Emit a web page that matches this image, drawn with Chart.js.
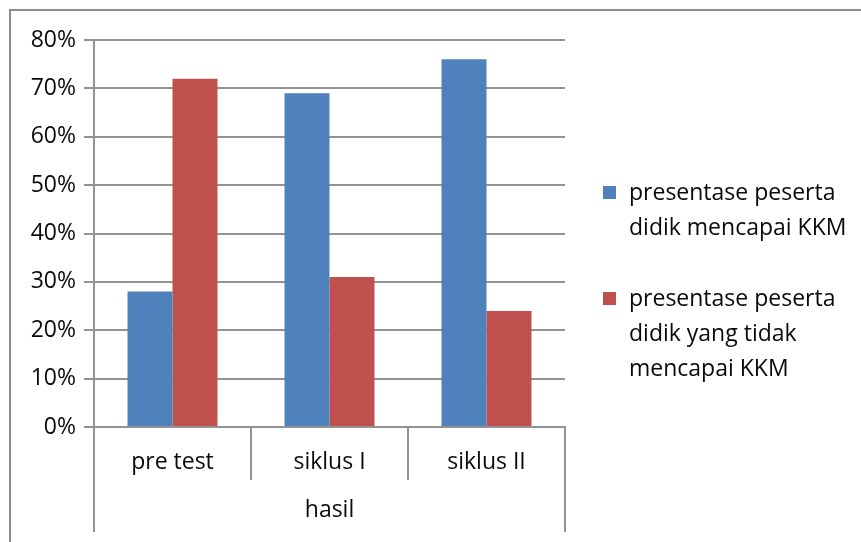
<!DOCTYPE html>
<html>
<head>
<meta charset="utf-8">
<script src="https://cdn.jsdelivr.net/npm/chart.js@4.4.1/dist/chart.umd.min.js"></script>
<style>
  html, body { margin: 0; padding: 0; background: #fff; }
  #wrap { width: 861px; height: 542px; }
</style>
</head>
<body>
<div id="wrap"><canvas id="c" width="861" height="542"></canvas></div>
<script>
// Categories, group label and series values (percent)
const categories = ['pre test', 'siklus I', 'siklus II'];
const groupLabels = ['hasil'];
const reached = [28, 69, 76];
const notReached = [72, 31, 24];
const seriesLines = [
  ['presentase peserta', 'didik mencapai KKM'],
  ['presentase peserta', 'didik yang tidak', 'mencapai KKM']
];
const yTicks = [0, 10, 20, 30, 40, 50, 60, 70, 80];

const FONT = '"Open Sans", Lato, sans-serif';
const FONT_SIZE = 23;
const LINE_H = FONT_SIZE * 1.2;
const AXIS_GRAY = '#939393';
const TEXT = '#0a0a0a';

// Outer frame around the chart
const framePlugin = {
  id: 'frame',
  beforeDraw(chart) {
    const ctx = chart.ctx;
    ctx.save();
    ctx.strokeStyle = '#8c8c8c';
    ctx.lineWidth = 2;
    ctx.strokeRect(10, 10, chart.width + 20, chart.height + 20);
    ctx.restore();
  }
};

// Legend on the right with wrapped entries
const sideLegend = {
  id: 'sideLegend',
  afterDraw(chart) {
    const ctx = chart.ctx;
    const x = 603, lineH = 35;
    const starts = [193, 299];
    ctx.save();
    ctx.font = FONT_SIZE + 'px ' + FONT;
    ctx.textBaseline = 'middle';
    ctx.textAlign = 'left';
    chart.data.datasets.forEach((ds, i) => {
      const y0 = starts[i];
      ctx.fillStyle = ds.backgroundColor;
      ctx.fillRect(x, y0 - 7, 13, 13);
      ctx.fillStyle = TEXT;
      seriesLines[i].forEach((t, j) => ctx.fillText(t, x + 26, y0 + j * lineH));
    });
    ctx.restore();
  }
};

new Chart(document.getElementById('c'), {
  type: 'bar',
  data: {
    labels: categories,
    datasets: [
      { label: seriesLines[0].join(' '), data: reached, backgroundColor: '#4F81BD', xAxisID: 'x' },
      { label: seriesLines[1].join(' '), data: notReached, backgroundColor: '#C0504D', xAxisID: 'x' }
    ]
  },
  options: {
    responsive: false,
    animation: false,
    devicePixelRatio: 1,
    layout: { padding: { top: 40, right: 296, left: 0, bottom: 10 } },
    datasets: { bar: { categoryPercentage: 0.573, barPercentage: 1 } },
    plugins: { legend: { display: false }, tooltip: { enabled: false } },
    scales: {
      y: {
        min: 0, max: 80,
        afterFit(s) { s.width = 94; },
        afterBuildTicks(s) { s.ticks = yTicks.map(v => ({ value: v })); },
        ticks: { callback: v => v + '%', padding: 8, color: TEXT, font: { family: FONT, size: FONT_SIZE } },
        grid: { color: AXIS_GRAY, lineWidth: 2, tickLength: 10 },
        border: { color: AXIS_GRAY, width: 2 }
      },
      x: {
        position: 'bottom',
        afterFit(s) { s.height = 53; },
        ticks: { padding: 462 - 427 - 53 - LINE_H / 2, color: TEXT, font: { family: FONT, size: FONT_SIZE }, maxRotation: 0 },
        grid: { offset: true, drawOnChartArea: false, color: AXIS_GRAY, lineWidth: 2, tickLength: 53 },
        border: { color: AXIS_GRAY, width: 2 }
      },
      x2: {
        type: 'category',
        labels: groupLabels,
        position: 'bottom',
        afterFit(s) { s.height = 52; },
        ticks: { padding: 510 - 480 - 52 - LINE_H / 2, color: TEXT, font: { family: FONT, size: FONT_SIZE }, maxRotation: 0 },
        grid: { offset: true, drawOnChartArea: false, color: AXIS_GRAY, lineWidth: 2, tickLength: 52 },
        border: { display: false }
      }
    }
  },
  plugins: [framePlugin, sideLegend]
});
</script>
</body>
</html>
